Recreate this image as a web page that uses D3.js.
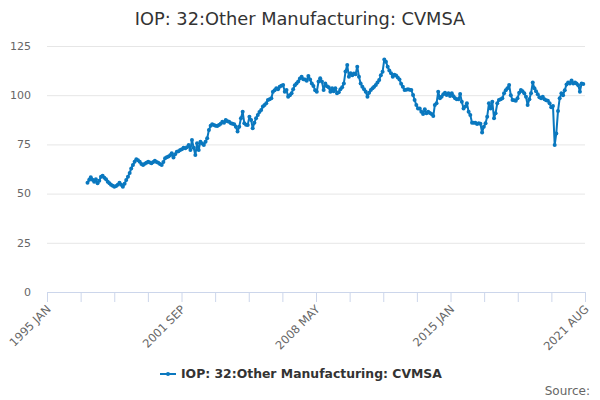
<!DOCTYPE html>
<html>
<head>
<meta charset="utf-8">
<script src="https://cdn.jsdelivr.net/npm/d3@7"></script>
<style>
  body { margin: 0; background: #fff; }
  svg { font-family: "DejaVu Sans", sans-serif; }
</style>
</head>
<body>
<div id="chart"></div>
<script>
// Data (monthly index, from 1997 JAN)
const seriesName = "IOP: 32:Other Manufacturing: CVMSA";
const firstMonth = "1997-01";
const seriesValues = [
    55.5, 57, 58.3, 57, 56, 57.3, 55.2, 56.5, 58.5, 59.1, 58, 57.3,          // 1997
    56, 55.2, 54.5, 54, 53.5, 53.8, 54.5, 55.5, 54.5, 53.5, 55, 56.9,        // 1998
    58.5, 60.5, 62.8, 64.5, 66.2, 67.4, 67, 66.2, 65, 64.5, 65.2, 65.7,      // 1999
    66.2, 65.8, 65.4, 66, 66.7, 66, 65.7, 65, 64.5, 66, 67.9, 68.5,          // 2000
    68.8, 69.5, 70.5, 68.3, 70, 71.3, 71.5, 72.2, 72.5, 73.3, 73, 73.5,      // 2001
    74.7, 72.2, 77.2, 73.3, 69.6, 75.6, 72.2, 76.4, 75.5, 74.7, 76.4, 78.1,  // 2002
    82.3, 84.5, 85.2, 84.8, 84.5, 84.3, 84.9, 85.5, 86.5, 86, 87.4, 86.8,    // 2003
    86.5, 85.7, 85.5, 85.2, 84, 81.5, 84, 88.3, 91.6, 85.7, 85, 84.9,        // 2004
    89.1, 87.4, 83.2, 86, 88.3, 89.9, 91.5, 92.5, 94.2, 95, 95.9, 97.6,      // 2005
    98, 98.4, 101.8, 102.5, 103.5, 103, 104.3, 104.8, 105.2, 101.8, 102.6, 99.2, // 2006
    100, 101, 103, 105, 106, 107, 108.5, 109.4, 108.1, 108, 107.4, 109.8,    // 2007
    108, 106, 104.7, 102.5, 101.8, 106.9, 108.6, 106.9, 102.6, 106, 104.5, 104, // 2008
    101.8, 103.5, 102, 103.5, 101, 101.5, 103, 104, 106, 112, 115.3, 109.4,  // 2009
    111.1, 110.2, 111, 110.7, 114.5, 109.4, 106, 104.3, 103, 101.8, 99.2, 101.3, // 2010
    102.6, 103.5, 104.3, 105.2, 106.5, 107.7, 110.2, 111.9, 118.2, 117, 114.5, 112.5, // 2011
    111.1, 109.4, 110.4, 110, 109, 108, 105.8, 104.3, 102.6, 102.8, 103, 102.8, // 2012
    102.6, 100.1, 97.6, 95, 93.3, 93.3, 91.6, 90.5, 92.8, 90.8, 91.6, 91,    // 2013
    90.4, 89.4, 95, 95.9, 101.8, 98.4, 99.2, 100.5, 101.3, 100.1, 101, 99.6, // 2014
    101, 99.5, 98.4, 97.9, 98, 100.6, 96.7, 93.3, 94.2, 95.9, 91.6, 89.9,    // 2015
    86, 86, 86, 85.4, 85.7, 85.5, 81, 84, 85.7, 89.1, 95.9, 93.3,            // 2016
    96.7, 88.3, 90.8, 95.9, 97.6, 98, 98.4, 101, 102.5, 103.5, 105.2, 100,   // 2017
    97.6, 97.4, 97.2, 98.4, 101.2, 102.6, 102, 101, 99.2, 95, 98, 101,       // 2018
    106.4, 103.5, 102, 100.5, 99, 98.4, 99.2, 98, 97.4, 97.2, 95.9, 93.9,    // 2019
    94.5, 74.7, 80.6, 92, 98.4, 101, 100, 102.5, 105.5, 106.5, 106, 107.5,   // 2020
    106, 106.4, 106, 105, 101.8, 106, 105.7                                  // 2021
];

const xDomain = ["1995-01", "2021-08"];
const xTickCount = 16;               // intervals between axis ticks
const xTickLabels = ["1995 JAN", "2001 SEP", "2008 MAY", "2015 JAN", "2021 AUG"];
const yTicks = [0, 25, 50, 75, 100, 125];

document.addEventListener("DOMContentLoaded", function () {
    const width = 600;
    const height = 400;
    const marginTop = 46;
    const marginRight = 15;
    const marginBottom = 108;
    const marginLeft = 47;
    const lineColor = "#0a78bf";

    const parseMonth = d3.timeParse("%Y-%m");
    const start = parseMonth(firstMonth);
    const data = seriesValues.map((v, i) => ({ date: d3.timeMonth.offset(start, i), value: v }));

    const svg = d3.select("#chart")
        .append("svg")
        .attr("width", width)
        .attr("height", height)
        .attr("viewBox", [0, 0, width, height]);

    const x = d3.scaleTime()
        .domain(xDomain.map(parseMonth))
        .range([marginLeft, width - marginRight]);

    const y = d3.scaleLinear()
        .domain([0, 125])
        .range([height - marginBottom, marginTop]);

    // title
    svg.append("text")
        .attr("x", width / 2)
        .attr("y", 25)
        .attr("text-anchor", "middle")
        .attr("fill", "#333")
        .attr("font-size", "17.8px")
        .text(seriesName);

    // horizontal grid
    svg.append("g")
        .selectAll("line")
        .data(yTicks.filter(d => d > 0))
        .join("line")
        .attr("x1", marginLeft)
        .attr("x2", width - marginRight)
        .attr("y1", d => y(d) + 0.5)
        .attr("y2", d => y(d) + 0.5)
        .attr("stroke", "#e6e6e6");

    // y axis labels
    svg.append("g")
        .attr("fill", "#666")
        .attr("font-size", "11px")
        .attr("text-anchor", "end")
        .selectAll("text")
        .data(yTicks)
        .join("text")
        .attr("x", 31)
        .attr("y", d => y(d))
        .attr("dy", "0.35em")
        .text(d => d);

    // x axis: evenly spaced ticks, label every 4th
    const [t0, t1] = x.domain();
    const tickDates = d3.range(xTickCount + 1).map(i => new Date(+t0 + (t1 - t0) * i / xTickCount));

    const xAxis = svg.append("g")
        .attr("transform", `translate(0,${y(0)})`)
        .call(d3.axisBottom(x)
            .tickValues(tickDates)
            .tickSize(10)
            .tickSizeOuter(0)
            .tickFormat((d, i) => i % 4 === 0 ? xTickLabels[i / 4] : ""));

    xAxis.select(".domain").attr("stroke", "#ccd6eb");
    xAxis.selectAll(".tick line").attr("stroke", "#ccd6eb");
    xAxis.selectAll(".tick text")
        .attr("fill", "#666")
        .attr("font-size", "11.5px")
        .attr("font-family", "DejaVu Sans, sans-serif")
        .attr("text-anchor", "end")
        .attr("y", 0)
        .attr("dy", 0)
        .attr("transform", "translate(4,18) rotate(-45)");

    // series line
    const line = d3.line()
        .x(d => x(d.date))
        .y(d => y(d.value));

    svg.append("path")
        .datum(data)
        .attr("fill", "none")
        .attr("stroke", lineColor)
        .attr("stroke-width", 2)
        .attr("stroke-linejoin", "round")
        .attr("d", line);

    svg.append("g")
        .attr("fill", lineColor)
        .selectAll("circle")
        .data(data)
        .join("circle")
        .attr("cx", d => x(d.date))
        .attr("cy", d => y(d.value))
        .attr("r", 2);

    // legend
    const legend = svg.append("g").attr("transform", "translate(160,374)");
    legend.append("line")
        .attr("x1", 0).attr("x2", 16)
        .attr("stroke", lineColor)
        .attr("stroke-width", 2);
    legend.append("circle")
        .attr("cx", 8)
        .attr("r", 2)
        .attr("fill", lineColor);
    legend.append("text")
        .attr("x", 21)
        .attr("dy", "0.35em")
        .attr("fill", "#333")
        .attr("font-size", "12.4px")
        .attr("font-weight", "bold")
        .text(seriesName);

    // credits
    svg.append("text")
        .attr("x", width - 10)
        .attr("y", height - 5)
        .attr("text-anchor", "end")
        .attr("fill", "#666")
        .attr("font-size", "12px")
        .text("Source:");
});
</script>
</body>
</html>
